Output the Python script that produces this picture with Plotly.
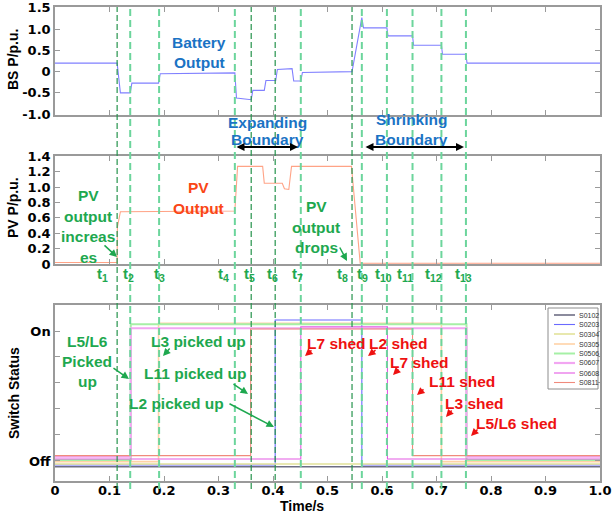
import plotly.graph_objects as go

# ---------------- data ----------------
bs_t = [0, 0.114, 0.12, 0.138, 0.141, 0.19, 0.193, 0.33, 0.333, 0.36, 0.363, 0.384, 0.387,
        0.405, 0.408, 0.435, 0.438, 0.451, 0.454, 0.545, 0.563, 0.566, 0.609, 0.611, 0.656,
        0.658, 0.709, 0.711, 0.754, 0.756, 1.0]
bs_p = [0.2, 0.2, -0.5, -0.5, -0.27, -0.27, -0.05, -0.03, -0.62, -0.66, -0.44, -0.44, -0.21,
        -0.21, 0.05, 0.07, -0.22, -0.22, -0.02, 0.0, 1.27, 1.03, 1.03, 0.84, 0.84,
        0.62, 0.62, 0.41, 0.41, 0.2, 0.2]

pv_t = [0, 0.114, 0.1145, 0.12, 0.33, 0.335, 0.381, 0.384, 0.417, 0.421, 0.429, 0.434,
        0.544, 0.56, 1.0]
pv_p = [0.02, 0.02, 0.48, 0.68, 0.69, 1.27, 1.27, 1.05, 1.05, 0.98, 0.97, 1.27,
        1.27, 0.01, 0.01]

switch_names = ["S0102", "S0203", "S0304", "S0305", "S0506", "S0607", "S0608", "S0811"]
switch_colors = ["#6e6e84", "#6a6aff", "#e2e29a", "#ffd2a6", "#a6f0a6", "#f2a6f2", "#e45ae4", "#f08a7c"]
switch_widths = [1.6, 1.1, 1.6, 1.6, 2.0, 2.2, 1.1, 1.1]
switch_t = {
    "S0102": [0, 1.0],
    "S0203": [0, 0.404, 0.563, 1.0],
    "S0304": [0, 1.0],
    "S0305": [0, 0.19, 0.709, 1.0],
    "S0506": [0, 0.139, 0.755, 1.0],
    "S0607": [0, 0.139, 0.755, 1.0],
    "S0608": [0, 0.451, 0.610, 1.0],
    "S0811": [0, 0.359, 0.656, 1.0],
}
switch_y = {
    "S0102": [-0.044, -0.044],
    "S0203": [-0.031, 1.085, -0.031, -0.031],
    "S0304": [-0.023, -0.023],
    "S0305": [-0.005, 1.059, -0.005, -0.005],
    "S0506": [0.008, 1.052, 0.008, 0.008],
    "S0607": [0.033, 1.021, 0.033, 0.033],
    "S0608": [0.015, 1.033, 0.015, 0.015],
    "S0811": [0.041, 1.015, 0.041, 0.041],
}

event_times = [0.114, 0.138, 0.191, 0.33, 0.36, 0.404, 0.451, 0.545, 0.563, 0.609, 0.656, 0.709, 0.754]
event_dark = [True, False, False, False, True, True, False, True, False, False, False, False, False]
t_labels = ["t<sub>%d</sub>" % i for i in range(1, 14)]

x_ticks = [0, 0.1, 0.2, 0.3, 0.4, 0.5, 0.6, 0.7, 0.8, 0.9, 1.0]
x_ticktext = ["0", "0.1", "0.2", "0.3", "0.4", "0.5", "0.6", "0.7", "0.8", "0.9", "1.0"]
bs_ticks = [-1.0, -0.5, 0, 0.5, 1.0, 1.5]
bs_ticktext = ["-1.0", "-0.5", "0", "0.5", "1.0", "1.5"]
pv_ticks = [0, 0.2, 0.4, 0.6, 0.8, 1.0, 1.2, 1.4]
pv_ticktext = ["0", "0.2", "0.4", "0.6", "0.8", "1.0", "1.2", "1.4"]
sw_ticks = [0, 0.2, 0.4, 0.6, 0.8, 1.0]
sw_ticktext = ["Off", "", "", "", "", "On"]

# ---------------- geometry helpers ----------------
W, H = 613, 517
L, R, T, B = 55, 13, 7, 36
PW, PH = W - L - R, H - T - B


def X(px):
    return (px - L) / PW


def Y(py):
    return (H - B - py) / PH


fig = go.Figure()

fig.add_trace(go.Scatter(x=bs_t, y=bs_p, mode="lines", line=dict(color="#8080ff", width=1.1),
                         xaxis="x", yaxis="y", showlegend=False))
fig.add_trace(go.Scatter(x=pv_t, y=pv_p, mode="lines", line=dict(color="#ffa386", width=1.1),
                         xaxis="x2", yaxis="y2", showlegend=False))
for name, col, w in zip(switch_names, switch_colors, switch_widths):
    fig.add_trace(go.Scatter(x=switch_t[name], y=switch_y[name], mode="lines", name=name,
                             line=dict(color=col, width=w, shape="hv"),
                             xaxis="x3", yaxis="y3", showlegend=False))

FONT = "Liberation Sans, Arial, sans-serif"
TICKFONT = dict(family="DejaVu Sans, Verdana, sans-serif", size=13, color="black", weight="bold")

axis_common = dict(range=[0, 1], showline=True, linecolor="#9a9a9a", linewidth=1.5, mirror="ticks",
                   ticks="inside", ticklen=5, tickcolor="#9a9a9a", tickwidth=1, showgrid=False,
                   zeroline=False, tickvals=x_ticks, automargin=False)
yaxis_common = dict(showline=True, linecolor="#9a9a9a", linewidth=1.5, mirror="ticks",
                    ticks="inside", ticklen=5, tickcolor="#9a9a9a", tickwidth=1, showgrid=False,
                    zeroline=False, tickfont=TICKFONT, automargin=False)

d_top = [Y(115), Y(7)]
d_mid = [Y(264), Y(156)]
d_bot = [Y(481), Y(305)]

fig.update_layout(
    template="none",
    width=W, height=H, autosize=False,
    margin=dict(l=L, r=R, t=T, b=B),
    paper_bgcolor="white", plot_bgcolor="white",
    xaxis=dict(axis_common, domain=[0, 1], anchor="y", showticklabels=False),
    xaxis2=dict(axis_common, domain=[0, 1], anchor="y2", showticklabels=False),
    xaxis3=dict(axis_common, domain=[0, 1], anchor="y3", ticktext=x_ticktext, tickfont=TICKFONT,
                ticklabelstandoff=-3),
    yaxis=dict(yaxis_common, domain=d_top, anchor="x", range=[-1.02, 1.52], tickvals=bs_ticks, ticktext=bs_ticktext),
    yaxis2=dict(yaxis_common, domain=d_mid, anchor="x2", range=[0, 1.405], tickvals=pv_ticks, ticktext=pv_ticktext),
    yaxis3=dict(yaxis_common, domain=d_bot, anchor="x3", range=[-0.154, 1.2], tickvals=sw_ticks, ticktext=sw_ticktext),
)

# dashed event lines
for t, dark in zip(event_times, event_dark):
    fig.add_shape(type="line", xref="x3", yref="paper", x0=t, x1=t, y0=Y(489), y1=Y(7),
                  line=dict(color="#25934c" if dark else "#6cd59c", width=1.2 if dark else 2,
                            dash="6px,3px" if dark else "7px,4px"))

ann = []


def text(s, px, py, color, size=15.5):
    ann.append(dict(text="<b>%s</b>" % s, x=X(px), y=Y(py), xref="paper", yref="paper",
                    showarrow=False, xanchor="center", yanchor="middle",
                    font=dict(family=FONT, size=size, color=color)))


def arrow(tail, head, color, width=1.5, both=False, size=1.0):
    ann.append(dict(text="", x=X(head[0]), y=Y(head[1]), xref="paper", yref="paper",
                    ax=tail[0] - head[0], ay=tail[1] - head[1], showarrow=True,
                    arrowhead=2, arrowsize=size, arrowwidth=width, arrowcolor=color,
                    arrowside="end+start" if both else "end", standoff=0, startstandoff=0))


BLUE = "#1a73c4"
ORANGE = "#fa4616"
GREEN = "#1ea84f"
RED = "#ee1111"

text("Battery", 199, 43, BLUE)
text("Output", 199, 62, BLUE)
text("Expanding", 267, 122, BLUE)
text("Boundary", 267, 139, BLUE)
text("Shrinking", 411, 120, BLUE)
text("Boundary", 411, 139, BLUE)
arrow((235, 147), (298, 147), "black", width=2, both=True, size=0.8)
arrow((364, 147), (464, 147), "black", width=2, both=True, size=0.8)

text("PV", 198, 187, ORANGE)
text("Output", 198, 208, ORANGE)

for s, py in zip(["PV", "output", "increas", "es"], [195, 216, 237, 257]):
    text(s, 88, py, GREEN)
arrow((103, 244), (117, 257), GREEN)
for s, py in zip(["PV", "output", "drops"], [207, 227, 247]):
    text(s, 316, py, GREEN)
arrow((339, 246), (347, 261), GREEN)

t_x = [102, 128, 159, 223, 249, 272, 297, 342, 362, 383, 405, 433, 463]
for s, px in zip(t_labels, t_x):
    text(s, px, 274, GREEN, size=15)

for s, py in zip(["L5/L6", "Picked", "up"], [342, 361, 381]):
    text(s, 87, py, GREEN)
arrow((112, 367), (129, 379), GREEN)
text("L3 picked up", 198, 341, GREEN)
arrow((171, 347), (163, 356), GREEN)
text("L11 picked up", 195, 373, GREEN)
arrow((232, 383), (248, 394), GREEN)
text("L2 picked up", 176, 403, GREEN)
arrow((228, 403), (274, 427), GREEN)

text("L7 shed", 336, 343, RED)
arrow((313, 349), (305, 356), RED)
text("L2 shed", 398, 343, RED)
arrow((377, 349), (368, 356), RED)
text("L7 shed", 419, 362, RED)
arrow((400, 368), (393, 375), RED)
text("L11 shed", 462, 381, RED)
arrow((425, 388), (417, 395), RED)
text("L3 shed", 474, 403, RED)
arrow((453, 409), (446, 417), RED)
text("L5/L6 shed", 516, 423, RED)
arrow((479, 428), (471, 436), RED)

# axis titles
for s, px, py in [("BS P/p.u.", 13, 60), ("PV P/p.u.", 13, 208), ("Switch Status", 14, 393)]:
    ann.append(dict(text="<b>%s</b>" % s, x=X(px), y=Y(py), xref="paper", yref="paper",
                    showarrow=False, textangle=-90, xanchor="center", yanchor="middle",
                    font=dict(family=FONT, size=14, color="black")))
ann.append(dict(text="<b>Time/s</b>", x=X(302), y=Y(506), xref="paper", yref="paper",
                showarrow=False, xanchor="center", yanchor="middle",
                font=dict(family=FONT, size=14, color="black")))

# manual legend
fig.add_shape(type="rect", xref="paper", yref="paper", x0=X(548), x1=X(598), y0=Y(389), y1=Y(308),
              line=dict(color="#8c8c8c", width=1), fillcolor="white", layer="above")
leg_y = [315, 324.5, 334, 344, 353.5, 363, 373, 382.5]
for name, col, w, py in zip(switch_names, switch_colors, switch_widths, leg_y):
    fig.add_shape(type="line", xref="paper", yref="paper", x0=X(554), x1=X(575), y0=Y(py), y1=Y(py),
                  line=dict(color=col, width=w), layer="above")
    ann.append(dict(text=name, x=X(577), y=Y(py), xref="paper", yref="paper", showarrow=False,
                    xanchor="left", yanchor="middle",
                    font=dict(family=FONT, size=7, color="#333333")))

fig.update_layout(annotations=ann)
fig.write_html("out.html", config={"displayModeBar": False},
               post_script="document.body.style.margin='0px';document.body.style.overflow='hidden';")
